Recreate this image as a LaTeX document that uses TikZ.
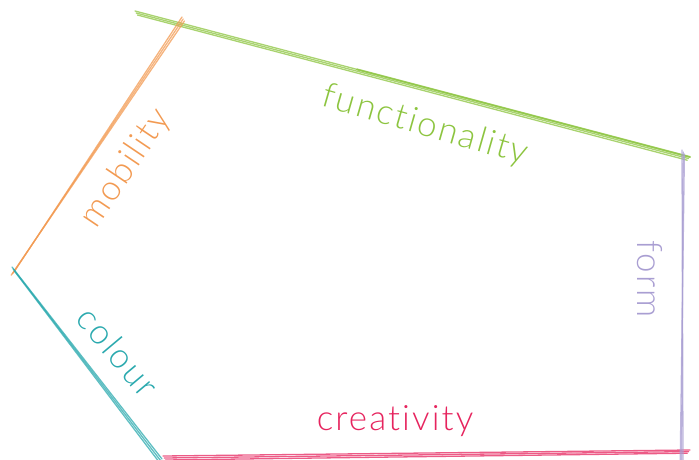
\documentclass[tikz,border=0pt]{standalone}
\usepackage{fontspec}
\setmainfont{Lato}[UprightFont=* Light,Ligatures={NoCommon,NoRare},LetterSpace=6]
\usetikzlibrary{calc}
\definecolor{mobilityc}{HTML}{F29A52}
\definecolor{functionc}{HTML}{8CC43F}
\definecolor{formc}{HTML}{A99ED2}
\definecolor{creativec}{HTML}{E6245E}
\definecolor{colourc}{HTML}{2AA9AE}
\newcommand{\side}[3][]{
    \foreach \s in {0,2,4}{
        \draw[sketch,#1] ($(#2)+(\s*0.6,\s*1.0)$) -- ($(#3)+(-\s*0.7,\s*0.8)$);
    }
}

\begin{document}
\begin{tikzpicture}[
        x=1pt,y=-1pt,
        sketch/.style={
            line width=1.3pt,
            line cap=round,
            opacity=0.75,
        },
        label/.style={
            font=\fontsize{35}{35}\selectfont,
            inner sep=0pt,
        }
    ]
    \useasboundingbox (0,0) rectangle (699,460);
    % ends of the strokes
    \coordinate (fun1) at (135,11);
    \coordinate (fun2) at (690,157);
    \coordinate (mob1) at (182,17);
    \coordinate (mob2) at (14,272);
    \coordinate (col1) at (12,267);
    \coordinate (col2) at (162,459);
    \coordinate (cre1) at (163,456);
    \coordinate (cre2) at (690,450);
    \coordinate (form1) at (682,150);
    \coordinate (form2) at (683,460);

    \side[functionc]{fun1}{fun2}
    \draw[sketch,functionc,line width=2pt] ($(fun1)!0.4!(fun2)$) -- (fun2);
    \side[mobilityc]{mob1}{mob2}
    \side[colourc]{col1}{col2}
    \side[creativec]{cre1}{cre2}
    \side[formc]{form1}{form2}

    \node[label,text=mobilityc,rotate=56] (mobility) at (126,168) {mobility};
    \node[label,text=functionc,rotate=-16] (functionality) at (425,126) {functionality};
    \node[label,text=formc,rotate=-90] (form) at (650,279) {form};
    \node[label,text=colourc,rotate=-50] (colour) at (118,352) {colour};
    \node[label,text=creativec] (creativity) at (395,421) {creativity};
\end{tikzpicture}
\end{document}
